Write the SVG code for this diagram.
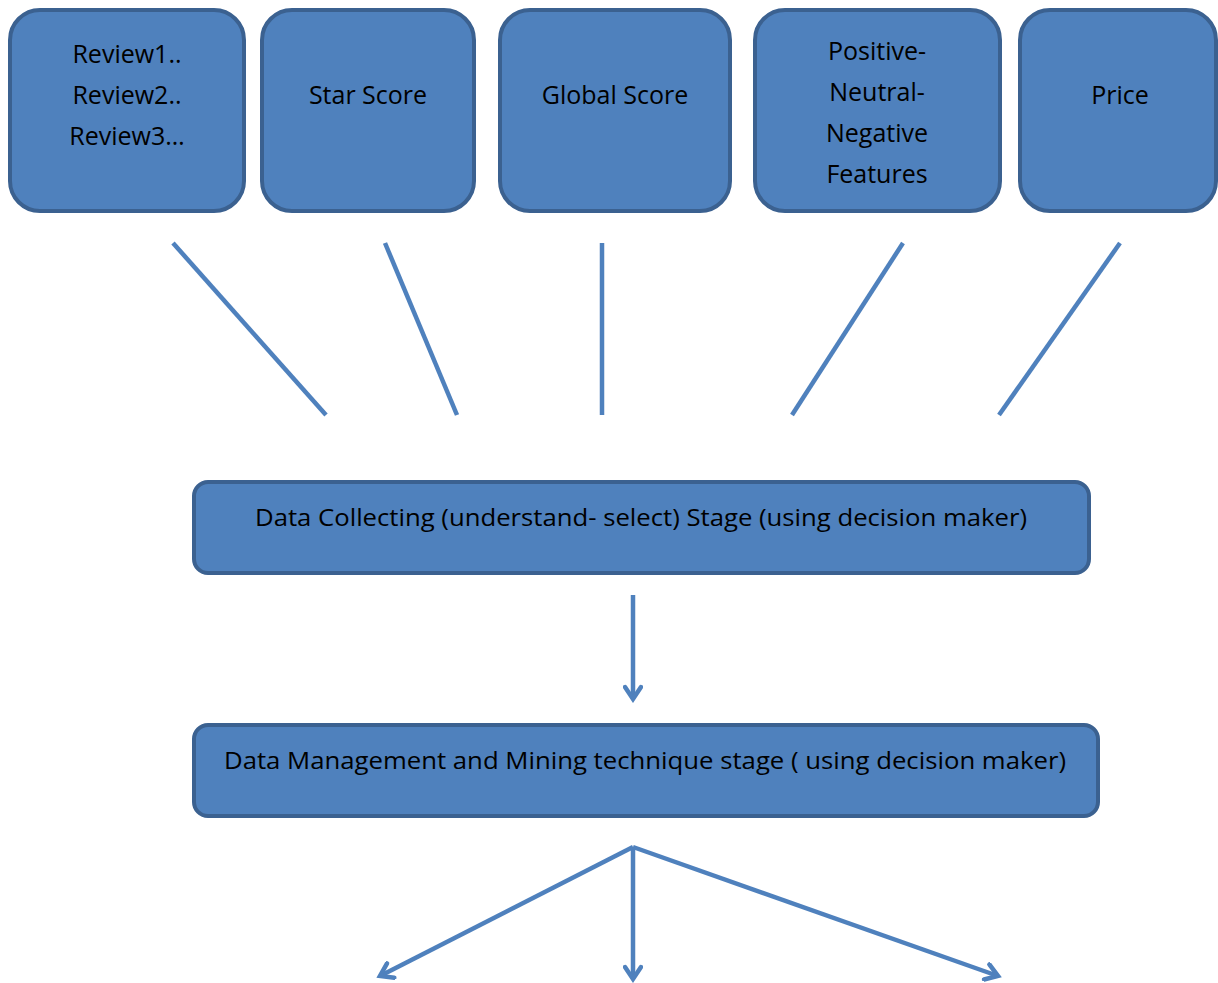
<svg xmlns="http://www.w3.org/2000/svg" width="1218" height="983" viewBox="0 0 1218 983">
<style>
.box{fill:#4f81bd;stroke:#3b6190;stroke-width:4}
.t{font-family:"Open Sans","Liberation Sans",sans-serif;font-size:23px;fill:#000;text-anchor:middle}
.tt{font-size:25px}
.c{stroke:#4f81bd;stroke-width:4.5;fill:none}
</style>
<defs>
<marker id="ah" viewBox="0 0 20 20" refX="16" refY="10" markerWidth="20" markerHeight="20" markerUnits="userSpaceOnUse" orient="auto">
<polyline points="4,2 16,10 4,18" fill="none" stroke="#4f81bd" stroke-width="4.5" stroke-linecap="round"/>
</marker>
</defs>
<rect width="1218" height="983" fill="#fff"/>
<g id="n1"><rect class="box" x="10" y="10" width="234" height="201" rx="30"/>
<text class="t tt" x="127" y="63">Review1..</text><text class="t tt" x="127" y="104">Review2..</text><text class="t tt" x="127" y="145">Review3…</text></g>
<g id="n2"><rect class="box" x="262" y="10" width="212" height="201" rx="30"/>
<text class="t tt" x="368" y="104">Star Score</text></g>
<g id="n3"><rect class="box" x="500" y="10" width="230" height="201" rx="30"/>
<text class="t tt" x="615" y="104">Global Score</text></g>
<g id="n4"><rect class="box" x="755" y="10" width="245" height="201" rx="30"/>
<text class="t tt" x="877" y="60">Positive-</text><text class="t tt" x="877" y="101">Neutral-</text><text class="t tt" x="877" y="142">Negative</text><text class="t tt" x="877" y="183">Features</text></g>
<g id="n5"><rect class="box" x="1020" y="10" width="196" height="201" rx="30"/>
<text class="t tt" x="1120" y="104">Price</text></g>
<g id="s1"><rect class="box" x="194" y="482" width="895" height="91" rx="14"/>
<text class="t" x="641" y="526" textLength="772" lengthAdjust="spacingAndGlyphs">Data Collecting (understand- select) Stage (using decision maker)</text></g>
<g id="s2"><rect class="box" x="194" y="725" width="904" height="91" rx="14"/>
<text class="t" x="645" y="769" textLength="842" lengthAdjust="spacingAndGlyphs">Data Management and Mining technique stage ( using decision maker)</text></g>
<g id="connectors">
<line class="c" x1="173" y1="243" x2="326" y2="415"/>
<line class="c" x1="385" y1="243" x2="457" y2="415"/>
<line class="c" x1="602" y1="243" x2="602" y2="415"/>
<line class="c" x1="903" y1="243" x2="792" y2="415"/>
<line class="c" x1="1120" y1="243" x2="999" y2="415"/>
<line class="c" x1="633" y1="595" x2="633" y2="699" marker-end="url(#ah)"/>
<line class="c" x1="633" y1="847" x2="380" y2="976" marker-end="url(#ah)"/>
<line class="c" x1="633" y1="847" x2="633" y2="979" marker-end="url(#ah)"/>
<line class="c" x1="633" y1="847" x2="998" y2="976" marker-end="url(#ah)"/>
</g>
</svg>
